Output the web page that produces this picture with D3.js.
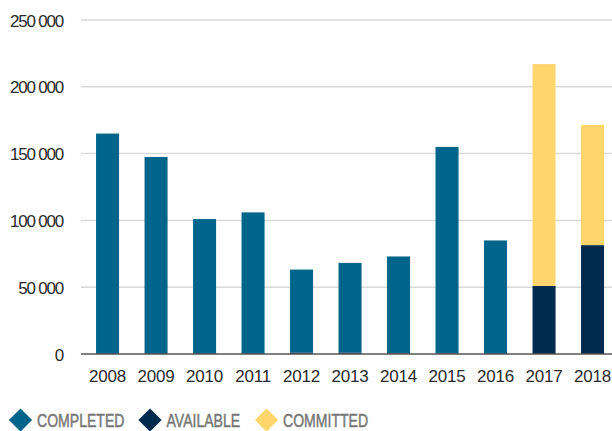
<!DOCTYPE html>
<html>
<head>
<meta charset="UTF-8">
<title>Completed / available / committed</title>
<script src="https://d3js.org/d3.v7.min.js"></script>
<style>
    body { margin: 0; background: #fff; }
    .tick-y { font-family: "Liberation Sans", Arial, sans-serif; font-size: 17px; fill: #2a2a2a; letter-spacing: -1.2px; }
    .tick-x { font-family: "Liberation Sans", Arial, sans-serif; font-size: 17px; fill: #2a2a2a; letter-spacing: -0.2px; }
    .legend-label { font-family: "Liberation Sans", Arial, sans-serif; font-size: 19px; fill: #767676; stroke: #767676; stroke-width: 0.5px; }
</style>
</head>
<body>
<svg id="chart" width="612" height="431"></svg>
<script>
    // data
    const years = ["2008", "2009", "2010", "2011", "2012", "2013", "2014", "2015", "2016", "2017", "2018"];
    const completed = [165000, 147500, 101000, 106000, 62000, 67000, 72500, 154500, 85000, 0, 0];
    const available = [0, 0, 0, 0, 1200, 1200, 500, 500, 0, 51000, 81500];
    const committed = [0, 0, 0, 0, 0, 0, 0, 0, 0, 166000, 90000];
    const yTicks = [0, 50000, 100000, 150000, 200000, 250000];

    const seriesNames = ["COMPLETED", "AVAILABLE", "COMMITTED"];
    const colors = { COMPLETED: "#00658a", AVAILABLE: "#002a4e", COMMITTED: "#ffd66c" };

    const svg = d3.select("#chart");

    const x = d3.scaleBand()
        .domain(years)
        .range([81.5, 618.6])
        .paddingInner(0.525)
        .paddingOuter(0.3);

    const y = d3.scaleLinear()
        .domain([0, 250000])
        .range([354, 20]);

    const fmt = d3.formatLocale({ decimal: ",", thousands: " ", grouping: [3], currency: ["", ""] }).format(",");

    // gridlines
    svg.append("g")
        .selectAll("line")
        .data(yTicks.filter(d => d > 0))
        .join("line")
        .attr("x1", 81).attr("x2", 612)
        .attr("y1", d => y(d)).attr("y2", d => y(d))
        .attr("stroke", "#d9d9d9")
        .attr("stroke-width", 1.5);

    // y tick labels
    svg.append("g")
        .selectAll("text")
        .data(yTicks)
        .join("text")
        .attr("class", "tick-y")
        .attr("x", 63)
        .attr("y", d => y(d) + 6.5)
        .attr("text-anchor", "end")
        .text(d => fmt(d));

    // stacked bars: available at the bottom, then completed, then committed
    const table = years.map((yr, i) => ({
        year: yr,
        AVAILABLE: available[i],
        COMPLETED: completed[i],
        COMMITTED: committed[i]
    }));
    const stack = d3.stack().keys(["AVAILABLE", "COMPLETED", "COMMITTED"]);
    const layers = stack(table);

    svg.append("g")
        .selectAll("g")
        .data(layers)
        .join("g")
        .attr("fill", d => colors[d.key])
        .selectAll("rect")
        .data(d => d)
        .join("rect")
        .attr("x", d => x(d.data.year))
        .attr("width", x.bandwidth())
        .attr("y", d => y(d[1]))
        .attr("height", d => y(d[0]) - y(d[1]));

    // baseline
    svg.append("line")
        .attr("x1", 81).attr("x2", 612)
        .attr("y1", y(0)).attr("y2", y(0))
        .attr("stroke", "#555")
        .attr("stroke-width", 1.5);

    // x labels
    svg.append("g")
        .selectAll("text")
        .data(years)
        .join("text")
        .attr("class", "tick-x")
        .attr("x", d => x(d) + x.bandwidth() / 2)
        .attr("y", 382)
        .attr("text-anchor", "middle")
        .text(d => d);

    // legend
    const legendX = [20.5, 150, 266.5];
    const legend = svg.append("g")
        .selectAll("g")
        .data(seriesNames)
        .join("g")
        .attr("transform", (d, i) => `translate(${legendX[i]},420)`);

    legend.append("rect")
        .attr("x", -8.2).attr("y", -8.2)
        .attr("width", 16.4).attr("height", 16.4)
        .attr("transform", "rotate(45)")
        .attr("fill", d => colors[d]);

    // condensed look: squeeze the sans horizontally
    legend.append("text")
        .attr("class", "legend-label")
        .attr("transform", "translate(16.5,7) scale(0.74,1)")
        .text(d => d);
</script>
</body>
</html>
